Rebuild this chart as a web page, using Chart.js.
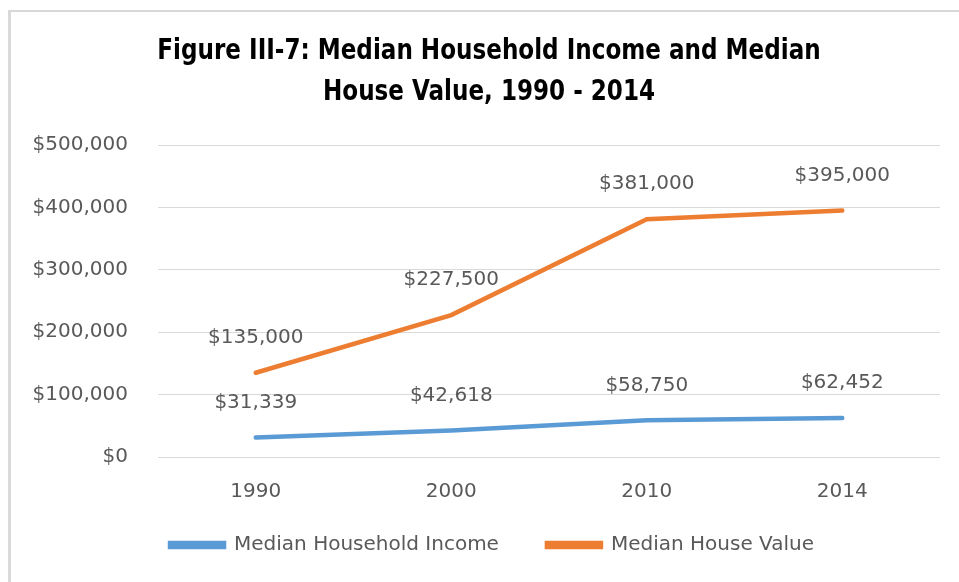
<!DOCTYPE html>
<html>
<head>
<meta charset="utf-8">
<script src="https://cdn.jsdelivr.net/npm/chart.js@4"></script>
<style>
    html, body { margin: 0; padding: 0; background: #ffffff; }
    #wrap { width: 959px; height: 582px; position: relative; }
</style>
</head>
<body>
<div id="wrap"><canvas id="incomeChart"></canvas></div>
<script>
const years = ['1990', '2000', '2010', '2014'];
const householdIncome = [31339, 42618, 58750, 62452];
const houseValue = [135000, 227500, 381000, 395000];
const yTicks = [0, 100000, 200000, 300000, 400000, 500000];
const titleLines = ['Figure III-7: Median Household Income and Median', 'House Value, 1990 - 2014'];

const textColor = '#595959';
const labelFont = { family: 'DejaVu Sans', size: 20 };

const money = function(v) {
    return '$' + Number(v).toLocaleString('en-US');
};

// white background, grey frame at top / left, and the two-line title
const framePlugin = {
    id: 'frame',
    beforeDraw: function(chart) {
        const ctx = chart.ctx;
        ctx.save();
        ctx.fillStyle = '#ffffff';
        ctx.fillRect(0, 0, chart.width, chart.height);
        ctx.fillStyle = '#d9d9d9';
        ctx.fillRect(8, 10, 3, chart.height - 10);
        ctx.fillRect(8, 10, chart.width - 8, 2);

        // title is a narrow font in the original, so squeeze it a bit
        ctx.fillStyle = '#000000';
        ctx.font = "bold 29px 'DejaVu Sans Condensed', 'DejaVu Sans', sans-serif";
        ctx.textAlign = 'center';
        ctx.textBaseline = 'middle';
        titleLines.forEach(function(line, i) {
            ctx.save();
            ctx.translate(489, 51 + i * 41);
            ctx.scale(0.885, 1);
            ctx.fillText(line, 0, 0);
            ctx.restore();
        });
        ctx.restore();
    },
    // pull the legend up closer to the x labels and centre it like the original
    afterLayout: function(chart) {
        const lg = chart.legend;
        if (!lg) return;
        const shift = lg.top - (chart.chartArea.bottom + 30);
        lg.top -= shift;
        lg.bottom -= shift;
        lg.left += 22;
        lg.right += 22;
    }
};

// value labels above each point
const valueLabels = {
    id: 'valueLabels',
    afterDatasetsDraw: function(chart) {
        const ctx = chart.ctx;
        ctx.save();
        ctx.font = labelFont.size + 'px ' + labelFont.family;
        ctx.fillStyle = textColor;
        ctx.textAlign = 'center';
        ctx.textBaseline = 'middle';
        chart.data.datasets.forEach(function(ds, i) {
            chart.getDatasetMeta(i).data.forEach(function(pt, j) {
                ctx.fillText(money(ds.data[j]), pt.x, pt.y - 35);
            });
        });
        ctx.restore();
    }
};

const ctx = document.getElementById('incomeChart').getContext('2d');
const chart = new Chart(ctx, {
    type: 'line',
    data: {
        labels: years,
        datasets: [
            {
                label: 'Median Household Income',
                data: householdIncome,
                borderColor: '#5b9bd5',
                backgroundColor: '#5b9bd5',
                borderWidth: 4.5,
                pointRadius: 0,
                borderCapStyle: 'round',
                tension: 0
            },
            {
                label: 'Median House Value',
                data: houseValue,
                borderColor: '#ed7d31',
                backgroundColor: '#ed7d31',
                borderWidth: 4.5,
                pointRadius: 0,
                borderCapStyle: 'round',
                tension: 0
            }
        ]
    },
    options: {
        responsive: true,
        maintainAspectRatio: false,
        animation: false,
        layout: {
            padding: { left: 0, right: 19, top: 145, bottom: -15 }
        },
        plugins: {
            title: { display: false },
            legend: {
                position: 'bottom',
                labels: {
                    color: textColor,
                    font: labelFont,
                    boxWidth: 54,
                    boxHeight: 4,
                    padding: 48
                }
            },
            tooltip: { enabled: false }
        },
        scales: {
            x: {
                offset: true,
                grid: { display: false },
                border: { display: false },
                ticks: { color: textColor, font: labelFont, padding: 15 }
            },
            y: {
                min: 0,
                max: 500000,
                afterBuildTicks: function(scale) {
                    scale.ticks = yTicks.map(function(v) { return { value: v }; });
                },
                grid: { color: '#d9d9d9', lineWidth: 1, drawTicks: false },
                border: { display: false },
                ticks: {
                    color: textColor,
                    font: labelFont,
                    padding: 30,
                    callback: function(v) { return money(v); }
                },
                afterFit: function(scale) { scale.width = 158; }
            }
        }
    },
    plugins: [framePlugin, valueLabels]
});
</script>
</body>
</html>
